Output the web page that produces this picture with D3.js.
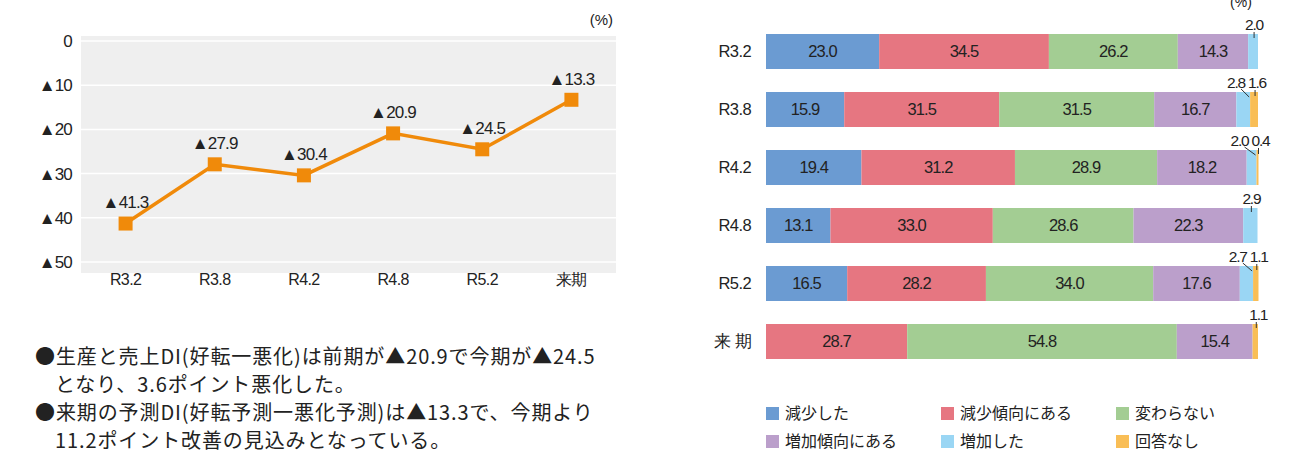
<!DOCTYPE html>
<html>
<head>
<meta charset="utf-8">
<script src="https://cdn.jsdelivr.net/npm/d3@7"></script>
<style>
  body { margin: 0; background: #fff; }
  text { font-family: "Liberation Sans", Arial, sans-serif; fill: #222; }
  .jp { font-family: "Noto Sans CJK JP", sans-serif; }
</style>
</head>
<body>
<div id="chart"></div>
<script>
// line chart data (DI)
var periods = ["R3.2", "R3.8", "R4.2", "R4.8", "R5.2", "来期"];
var diValues = [-41.3, -27.9, -30.4, -20.9, -24.5, -13.3];
var yTicks = [0, -10, -20, -30, -40, -50];

// stacked bar data
var barRows = ["R3.2", "R3.8", "R4.2", "R4.8", "R5.2", "来 期"];
var categories = ["減少した", "減少傾向にある", "変わらない", "増加傾向にある", "増加した", "回答なし"];
var decreased = [23.0, 15.9, 19.4, 13.1, 16.5, 0];
var decreasingTrend = [34.5, 31.5, 31.2, 33.0, 28.2, 28.7];
var unchanged = [26.2, 31.5, 28.9, 28.6, 34.0, 54.8];
var increasingTrend = [14.3, 16.7, 18.2, 22.3, 17.6, 15.4];
var increased = [2.0, 2.8, 2.0, 2.9, 2.7, 0];
var noAnswer = [0, 1.6, 0.4, 0, 1.1, 1.1];
var colors = ["#6b9bd2", "#e67681", "#a3cd93", "#bb9fcb", "#9ad6f4", "#f9be56"];

var notes = [
  ["●生産と売上DI(好転一悪化)は前期が▲20.9で今期が▲24.5", "となり、3.6ポイント悪化した。"],
  ["●来期の予測DI(好転予測一悪化予測)は▲13.3で、今期より", "11.2ポイント改善の見込みとなっている。"]
];

var width = 1294, height = 458;
var svg = d3.select("#chart").append("svg")
  .attr("width", width)
  .attr("height", height);

var fmt = function (v) { return v === 0 ? "0" : "▲" + Math.abs(v); };

// ---------- left: line chart ----------
var x = d3.scalePoint().domain(periods).range([81, 616]).padding(0.5);
var y = d3.scaleLinear().domain([0, -50]).range([41, 262]);

svg.append("rect")
  .attr("x", 81).attr("y", 36)
  .attr("width", 535).attr("height", 237)
  .attr("fill", "#efefef");

svg.selectAll(".grid")
  .data(yTicks)
  .enter().append("line")
  .attr("x1", 81).attr("x2", 616)
  .attr("y1", (d) => y(d)).attr("y2", (d) => y(d))
  .attr("stroke", "#fff").attr("stroke-width", 1.5);

svg.selectAll(".ylab")
  .data(yTicks)
  .enter().append("text")
  .attr("x", 72).attr("y", (d) => y(d))
  .attr("dy", "0.35em")
  .attr("text-anchor", "end")
  .attr("font-size", 17)
  .attr("letter-spacing", -0.8)
  .text(fmt);

svg.selectAll(".xlab")
  .data(periods)
  .enter().append("text")
  .attr("x", (d) => x(d)).attr("y", 279)
  .attr("dy", "0.35em")
  .attr("text-anchor", "middle")
  .attr("font-size", 16)
  .attr("letter-spacing", -0.6)
  .text((d) => d);

svg.append("text")
  .attr("x", 613).attr("y", 20)
  .attr("dy", "0.35em")
  .attr("text-anchor", "end")
  .attr("font-size", 15)
  .text("(%)");

var pts = periods.map((p, i) => ({ p: p, v: diValues[i] }));

svg.append("path")
  .datum(pts)
  .attr("fill", "none")
  .attr("stroke", "#f08a0a")
  .attr("stroke-width", 3.5)
  .attr("d", d3.line().x((d) => x(d.p)).y((d) => y(d.v)));

svg.selectAll(".mark")
  .data(pts)
  .enter().append("rect")
  .attr("x", (d) => x(d.p) - 7).attr("y", (d) => y(d.v) - 7)
  .attr("width", 14).attr("height", 14)
  .attr("fill", "#f08a0a");

svg.selectAll(".vlab")
  .data(pts)
  .enter().append("text")
  .attr("x", (d) => x(d.p)).attr("y", (d) => y(d.v) - 21)
  .attr("dy", "0.35em")
  .attr("text-anchor", "middle")
  .attr("font-size", 17)
  .attr("letter-spacing", -0.8)
  .text((d) => fmt(d.v));

// notes text
notes.forEach(function (lines, i) {
  lines.forEach(function (t, j) {
    svg.append("text")
      .attr("class", "jp")
      .attr("x", j === 0 ? 35 : 55)
      .attr("y", 357 + (i * 2 + j) * 28)
      .attr("dy", "0.35em")
      .attr("font-size", 20)
      .attr("letter-spacing", 0.9)
      .attr("fill", "#333")
      .text(t);
  });
});

// ---------- right: stacked bars ----------
var series = [decreased, decreasingTrend, unchanged, increasingTrend, increased, noAnswer];
var rows = barRows.map(function (r, i) {
  var o = { row: r };
  categories.forEach((c, k) => { o[c] = series[k][i]; });
  return o;
});
var stacked = d3.stack().keys(categories)(rows);

var bx = d3.scaleLinear().domain([0, 100]).range([766, 1258]);
var by = d3.scaleBand().domain(barRows)
  .range([22.5, 370.5])
  .paddingInner(23 / 58)
  .paddingOuter(23 / 116);

var layer = svg.selectAll(".layer")
  .data(stacked)
  .enter().append("g")
  .attr("fill", (d, i) => colors[i]);

layer.selectAll("rect")
  .data((d) => d)
  .enter().append("rect")
  .attr("x", (d) => bx(d[0]))
  .attr("y", (d) => by(d.data.row))
  .attr("width", (d) => bx(d[1]) - bx(d[0]))
  .attr("height", by.bandwidth());

// labels inside bars
stacked.forEach(function (s) {
  s.forEach(function (d) {
    var v = d[1] - d[0];
    var top = by(d.data.row);
    if (v >= 5) {
      svg.append("text")
        .attr("x", (bx(d[0]) + bx(d[1])) / 2)
        .attr("y", top + by.bandwidth() / 2)
        .attr("dy", "0.35em")
        .attr("text-anchor", "middle")
        .attr("font-size", 16.5)
        .attr("letter-spacing", -0.9)
        .text(d3.format(".1f")(v));
    }
  });
});

// small values above bars with leader lines
function smallLabel(xp, top, v) {
  svg.append("text")
    .attr("x", xp).attr("y", top - 9)
    .attr("dy", "0.35em").attr("text-anchor", "middle")
    .attr("font-size", 15.5).attr("letter-spacing", -1.2)
    .text(d3.format(".1f")(v));
}

barRows.forEach(function (r, i) {
  var top = by(r);
  var inc = stacked[4][i], na = stacked[5][i];
  var nx = (bx(na[0]) + bx(na[1])) / 2 + 1;
  if (noAnswer[i] > 0) {
    smallLabel(nx + 2, top, noAnswer[i]);
    svg.append("line")
      .attr("x1", nx).attr("y1", top - 2)
      .attr("x2", nx).attr("y2", top + 4)
      .attr("stroke", "#333").attr("stroke-width", 1);
  }
  if (increased[i] > 0) {
    if (noAnswer[i] > 0) {
      var lx = nx - 19;
      smallLabel(lx, top, increased[i]);
      svg.append("line")
        .attr("x1", lx + 5).attr("y1", top - 3)
        .attr("x2", bx(inc[1]) - 1).attr("y2", top + 5)
        .attr("stroke", "#333").attr("stroke-width", 1);
    } else {
      var cx = (bx(inc[0]) + bx(inc[1])) / 2 + 1;
      smallLabel(cx, top, increased[i]);
      svg.append("line")
        .attr("x1", cx).attr("y1", top - 2)
        .attr("x2", cx).attr("y2", top + 4)
        .attr("stroke", "#333").attr("stroke-width", 1);
    }
  }
});

// row labels
svg.selectAll(".rowlab")
  .data(barRows)
  .enter().append("text")
  .attr("x", 751)
  .attr("y", (d) => by(d) + by.bandwidth() / 2)
  .attr("dy", "0.35em")
  .attr("text-anchor", "end")
  .attr("font-size", 16.5)
  .attr("letter-spacing", -0.6)
  .text((d) => d);

svg.append("text")
  .attr("x", 1241).attr("y", 2)
  .attr("dy", "0.35em")
  .attr("text-anchor", "middle")
  .attr("font-size", 14)
  .text("(%)");

// legend
var legend = svg.selectAll(".legend")
  .data(categories)
  .enter().append("g")
  .attr("transform", (d, i) => "translate(" + (766 + (i % 3) * 175) + "," + (413 + Math.floor(i / 3) * 28) + ")");

legend.append("rect")
  .attr("x", 0).attr("y", -6)
  .attr("width", 13).attr("height", 13)
  .attr("fill", (d, i) => colors[i]);

legend.append("text")
  .attr("class", "jp")
  .attr("x", 19).attr("y", 0)
  .attr("dy", "0.35em")
  .attr("font-size", 16)
  .attr("fill", "#333")
  .text((d) => d);
</script>
</body>
</html>
